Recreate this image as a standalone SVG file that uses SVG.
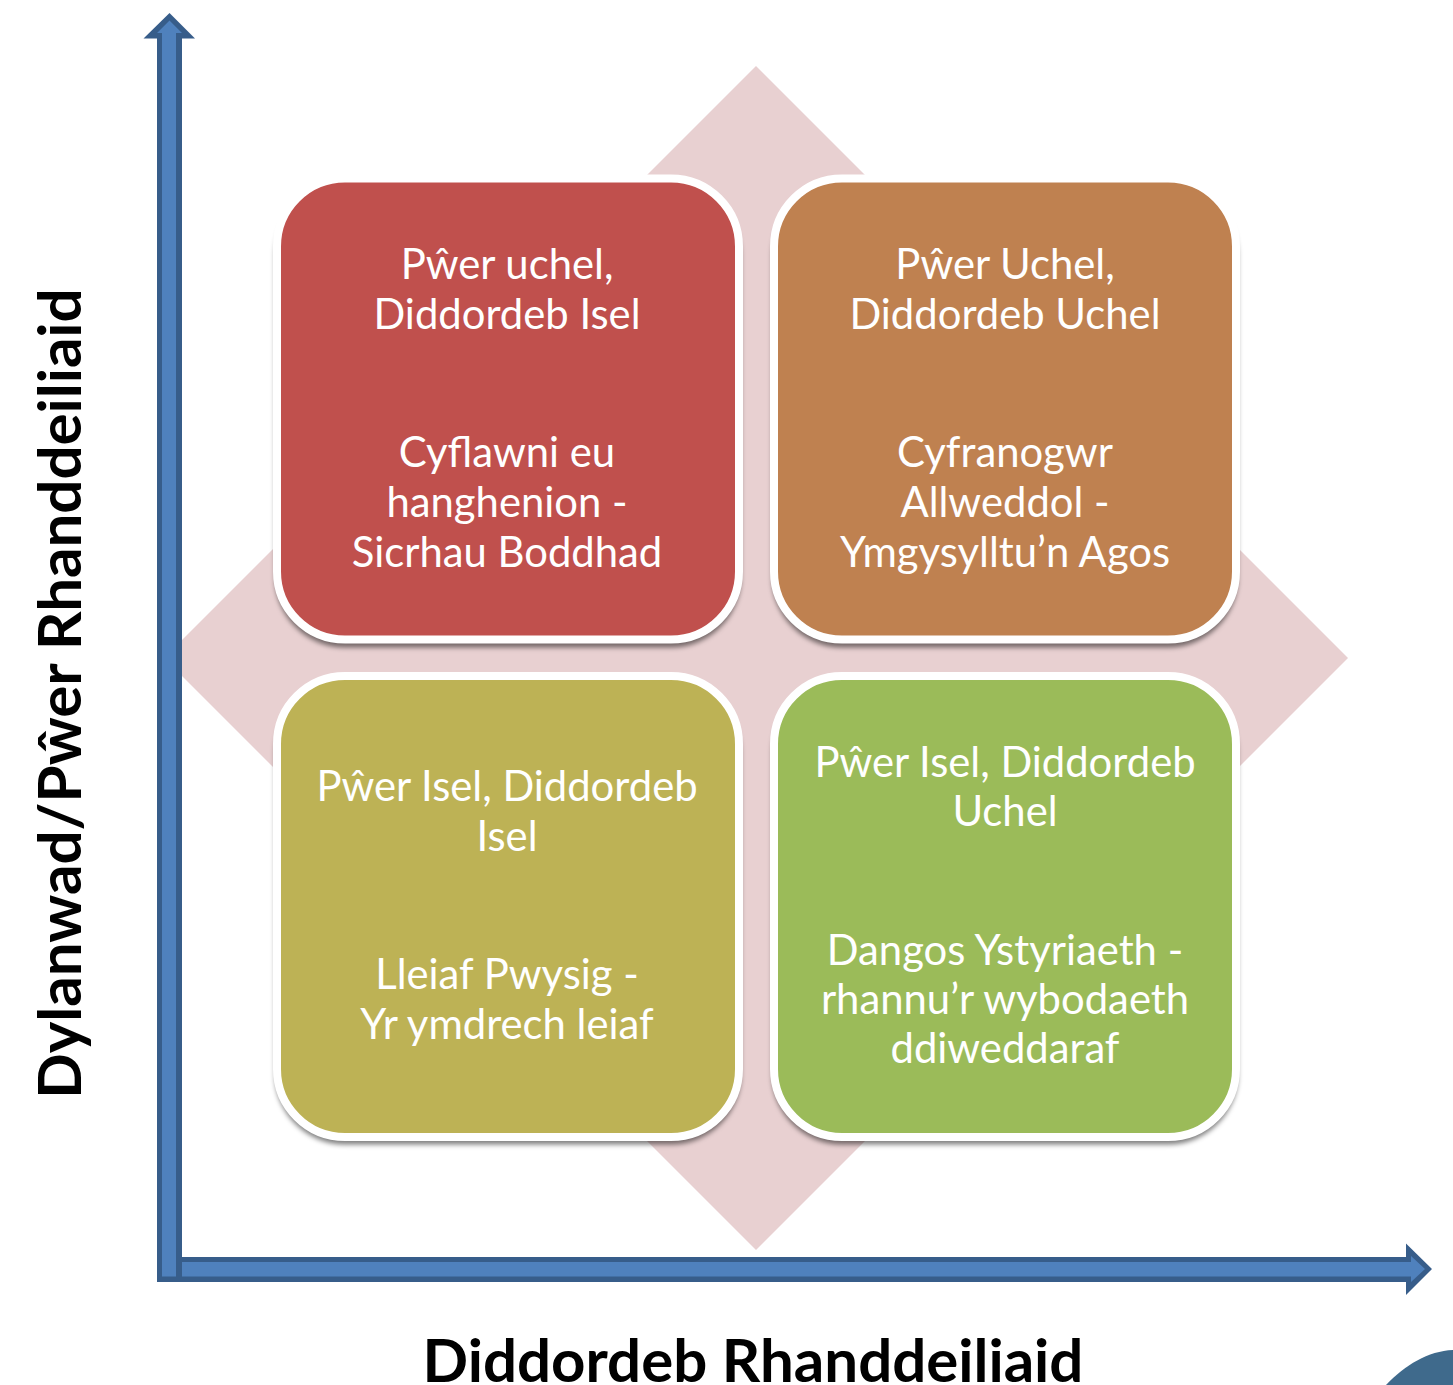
<svg xmlns="http://www.w3.org/2000/svg" width="1453" height="1385" viewBox="0 0 1453 1385">
<defs>
<filter id="sh" x="-5%" y="-5%" width="110%" height="110%"><feGaussianBlur stdDeviation="2.5"/></filter>
</defs>
<style>
.box{stroke:#fff;stroke-width:8}
.shadow{fill:#000;fill-opacity:.5;filter:url(#sh)}
.t{font-family:Lato,"Noto Sans",sans-serif;font-size:41.800px;fill:#fff;text-anchor:middle}
.ax{font-family:Lato,"Noto Sans",sans-serif;font-size:60px;font-weight:700;fill:#000;text-anchor:middle}
.out{fill:#375d8a}
.in{fill:#4f81bd}
</style>
<rect width="1453" height="1385" fill="#fff"/>
<g id="backdrop"><polygon points="756,66 1348,658 756,1250 164,658" fill="#e8d0d1"/></g>
<g id="node-red">
<rect class="shadow" x="275" y="186" width="466" height="461.500" rx="70"/>
<rect class="box" x="277" y="178.500" width="462" height="461" rx="68" fill="#c0504d"/>
<text class="t" x="507" y="278.500">Pŵer uchel,</text><text class="t" x="507" y="328.500">Diddordeb Isel</text>
<text class="t" x="507" y="466.500">Cyflawni eu</text><text class="t" x="507" y="516.500">hanghenion -</text><text class="t" x="507" y="566.500">Sicrhau Boddhad</text>
</g>
<g id="node-orange">
<rect class="shadow" x="772" y="186" width="466" height="461.500" rx="70"/>
<rect class="box" x="774" y="178.500" width="462" height="461" rx="68" fill="#bf8150"/>
<text class="t" x="1005" y="278.500">Pŵer Uchel,</text><text class="t" x="1005" y="328.500">Diddordeb Uchel</text>
<text class="t" x="1005" y="466.500">Cyfranogwr</text><text class="t" x="1005" y="516.500">Allweddol -</text><text class="t" x="1005" y="566.500">Ymgysylltu’n Agos</text>
</g>
<g id="node-olive">
<rect class="shadow" x="275" y="683" width="466" height="461.500" rx="70"/>
<rect class="box" x="277" y="676" width="462" height="461" rx="68" fill="#bdb255"/>
<text class="t" x="507" y="800.500">Pŵer Isel, Diddordeb</text><text class="t" x="507" y="850.500">Isel</text>
<text class="t" x="507" y="989">Lleiaf Pwysig -</text><text class="t" x="507" y="1038.500">Yr ymdrech leiaf</text>
</g>
<g id="node-green">
<rect class="shadow" x="772" y="683" width="466" height="461.500" rx="70"/>
<rect class="box" x="774" y="676" width="462" height="461" rx="68" fill="#9bbb59"/>
<text class="t" x="1005" y="776.500">Pŵer Isel, Diddordeb</text><text class="t" x="1005" y="825.500">Uchel</text>
<text class="t" x="1005" y="964.500">Dangos Ystyriaeth -</text><text class="t" x="1005" y="1013.500">rhannu’r wybodaeth</text><text class="t" x="1005" y="1063">ddiweddaraf</text>
</g>
<g id="connectors">
<path class="out" d="M157,1282V38.500H143.500L169.500,13L195,38.500H182V1257H1406V1243.500L1432,1269L1406,1295V1282Z"/>
<path class="in" d="M162,1276.500V33H157L169.500,20.500L182,33H176V1276.500Z"/>
<path class="in" d="M182,1262H1411V1256L1425,1269L1411,1282V1276.500H182Z"/>
</g>
<g id="labels">
<text class="ax" x="753" y="1382">Diddordeb Rhanddeiliaid</text>
<text class="ax" transform="translate(81,693.500) rotate(-90)">Dylanwad/Pŵer Rhanddeiliaid</text>
</g>
<path id="corner" d="M1386,1385C1405,1365 1428,1351 1453,1350V1385Z" fill="#3f6a8c"/>
</svg>
